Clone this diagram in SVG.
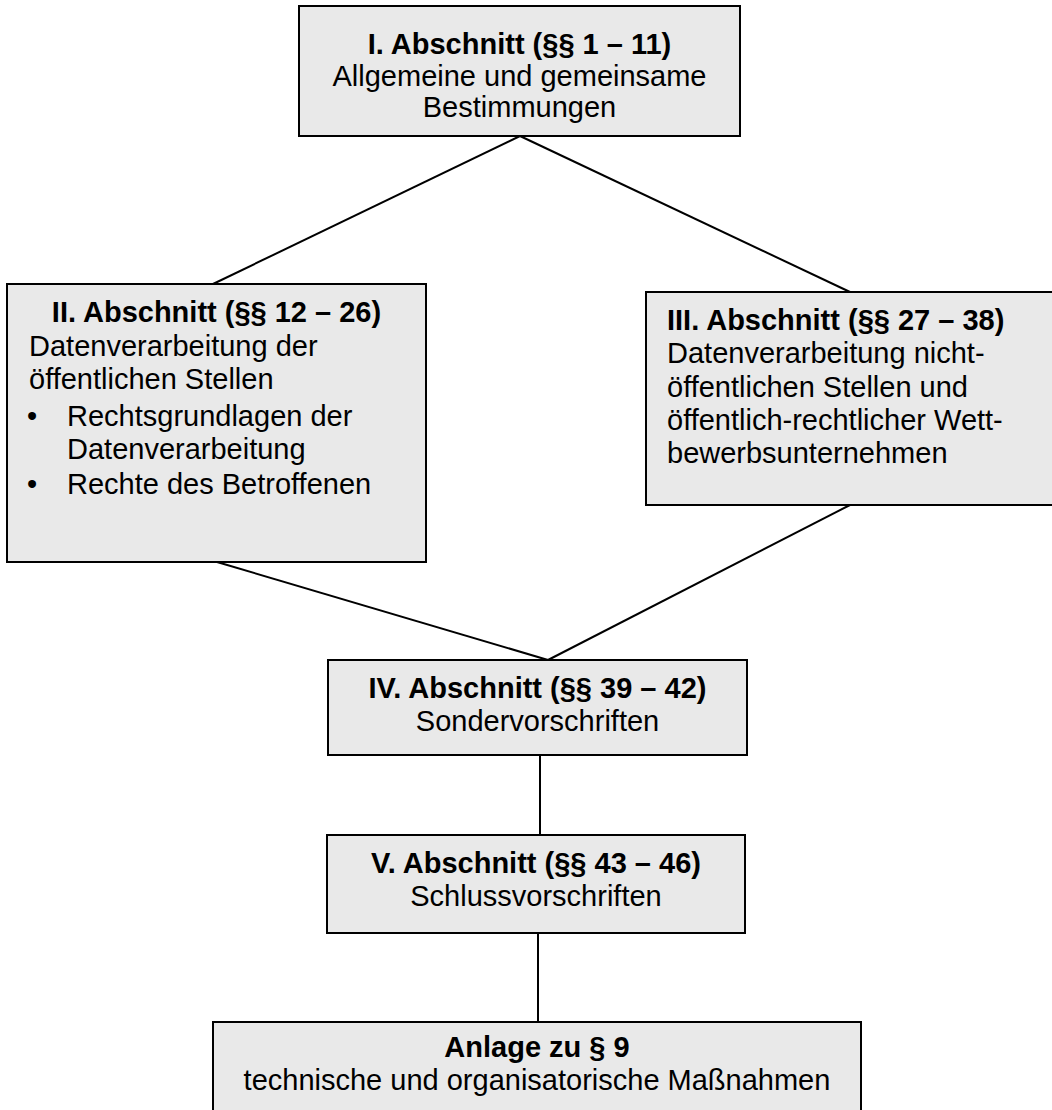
<svg xmlns="http://www.w3.org/2000/svg" width="1052" height="1110" viewBox="0 0 1052 1110">
<style>
.box{fill:#e9e9e9;stroke:#000;stroke-width:2}
.t{font-family:"Liberation Sans",Arial,sans-serif;font-size:29px;fill:#000}
.b{font-weight:bold}
.c{text-anchor:middle}
.con{stroke:#000;stroke-width:2;fill:none}
</style>
<rect width="1052" height="1110" fill="#fff"/>
<g id="connectors">
<line class="con" x1="520" y1="136" x2="213" y2="284"/>
<line class="con" x1="520" y1="136" x2="850" y2="292"/>
<line class="con" x1="217" y1="562" x2="548" y2="660"/>
<line class="con" x1="850" y1="505" x2="548" y2="660"/>
<line class="con" x1="540" y1="755" x2="540" y2="835"/>
<line class="con" x1="538" y1="933" x2="538" y2="1022"/>
</g>
<g id="node1">
<rect class="box" x="299" y="6" width="441" height="130"/>
<text class="t b c" x="519.5" y="54">I. Abschnitt (§§ 1 – 11)</text>
<text class="t c" x="519.5" y="86">Allgemeine und gemeinsame</text>
<text class="t c" x="519.5" y="117">Bestimmungen</text>
</g>
<g id="node2">
<rect class="box" x="7" y="284" width="419" height="278"/>
<text class="t b c" x="216.5" y="322">II. Abschnitt (§§ 12 – 26)</text>
<text class="t" x="29" y="356">Datenverarbeitung der</text>
<text class="t" x="29" y="389">öffentlichen Stellen</text>
<text class="t" x="27" y="426">•</text>
<text class="t" x="67" y="426">Rechtsgrundlagen der</text>
<text class="t" x="67" y="459">Datenverarbeitung</text>
<text class="t" x="27" y="494">•</text>
<text class="t" x="67" y="494">Rechte des Betroffenen</text>
</g>
<g id="node3">
<rect class="box" x="646" y="292" width="420" height="213"/>
<text class="t b" x="667" y="330">III. Abschnitt (§§ 27 – 38)</text>
<text class="t" x="667" y="363">Datenverarbeitung nicht-</text>
<text class="t" x="667" y="397">öffentlichen Stellen und</text>
<text class="t" x="667" y="430">öffentlich-rechtlicher Wett-</text>
<text class="t" x="667" y="463">bewerbsunternehmen</text>
</g>
<g id="node4">
<rect class="box" x="328" y="660" width="419" height="95"/>
<text class="t b c" x="537.5" y="698">IV. Abschnitt (§§ 39 – 42)</text>
<text class="t c" x="537.5" y="731">Sondervorschriften</text>
</g>
<g id="node5">
<rect class="box" x="327" y="835" width="418" height="98"/>
<text class="t b c" x="536" y="873">V. Abschnitt (§§ 43 – 46)</text>
<text class="t c" x="536" y="906">Schlussvorschriften</text>
</g>
<g id="node6">
<rect class="box" x="213" y="1022" width="648" height="100"/>
<text class="t b c" x="537" y="1057">Anlage zu § 9</text>
<text class="t c" x="537" y="1090">technische und organisatorische Maßnahmen</text>
</g>
</svg>
